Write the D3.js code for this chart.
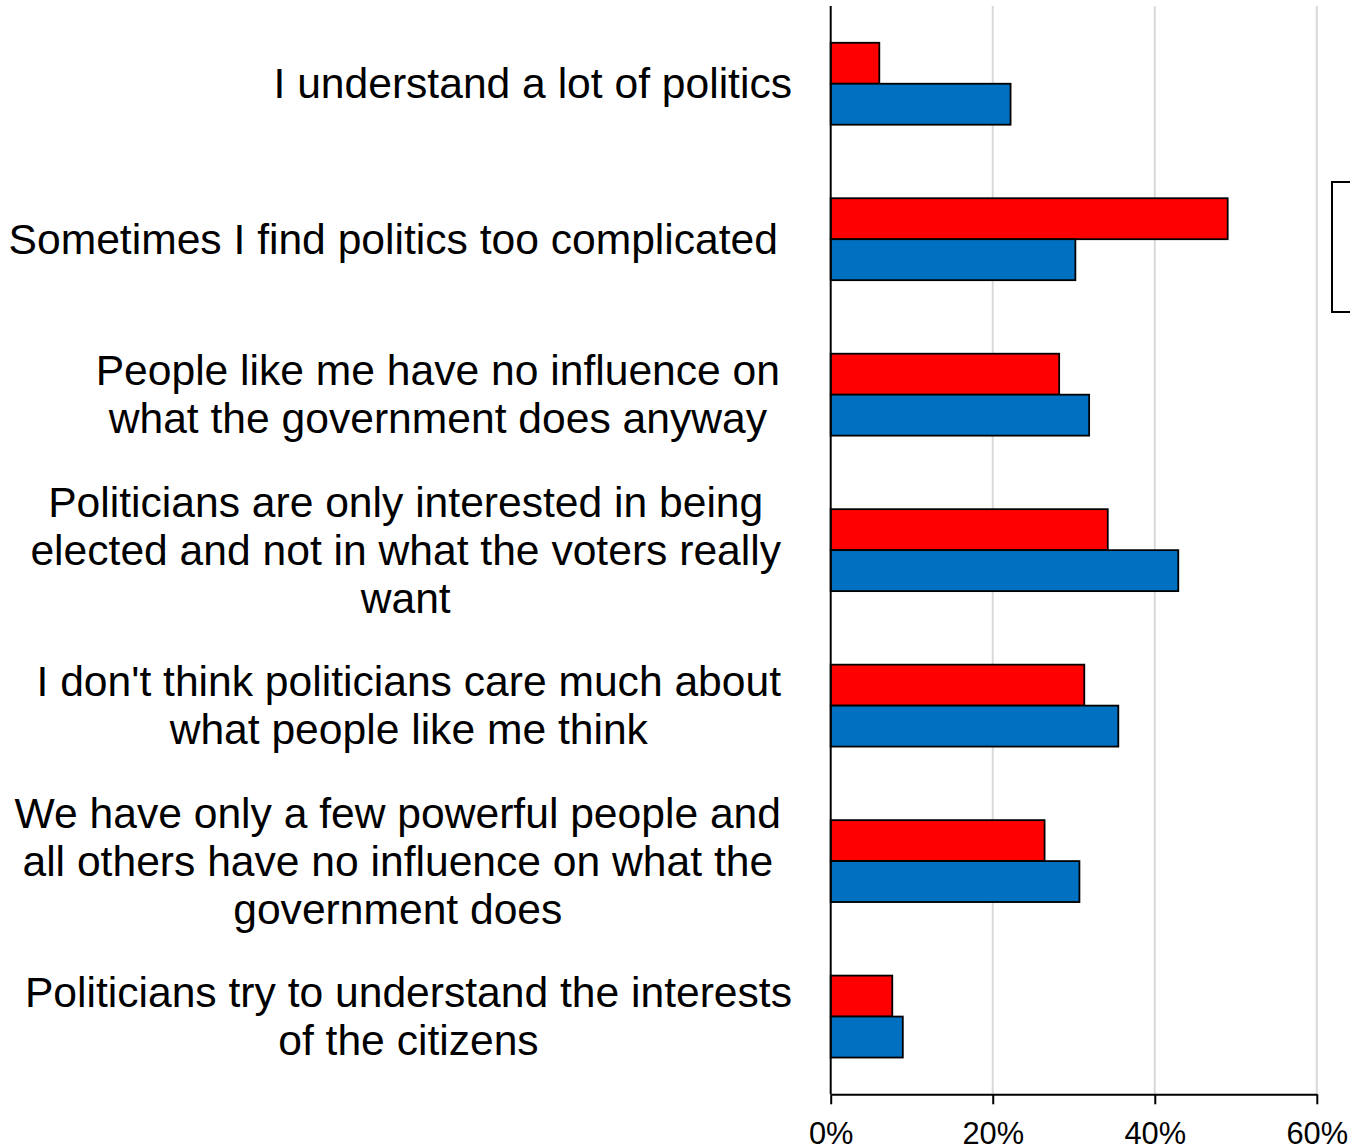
<!DOCTYPE html>
<html>
<head>
<meta charset="utf-8">
<script src="https://cdn.jsdelivr.net/npm/d3@7/dist/d3.min.js"></script>
<style>
  html, body { margin: 0; padding: 0; background: #fff; overflow: hidden; }
  svg { display: block; font-family: "Liberation Sans", Arial, sans-serif; }
</style>
</head>
<body>
<div id="chart"></div>
<script>
// Statements, one entry per category (each inner array is one wrapped line)
const categories = [
  ["I understand a lot of politics"],
  ["Sometimes I find politics too complicated"],
  ["People like me have no influence on", "what the government does anyway"],
  ["Politicians are only interested in being", "elected and not in what the voters really", "want"],
  ["I don't think politicians care much about", "what people like me think"],
  ["We have only a few powerful people and", "all others have no influence on what the", "government does"],
  ["Politicians try to understand the interests", "of the citizens"]
];

// Share agreeing (%), two groups
const seriesRed  = [6.0, 49.0, 28.2, 34.2, 31.3, 26.4, 7.6];
const seriesBlue = [22.2, 30.2, 31.9, 42.9, 35.5, 30.7, 8.9];

// Axis ticks (%)
const xTicks = [0, 20, 40, 60];

// ---- layout ----
const W = 1350, H = 1148;
const plot = { left: 830.7, right: 1316.8, top: 6, bottom: 1094.3 };
const labelFont = 42.6, lineGap = 48;
// right edge of each category label block
const labelRight = [792, 778, 780, 781, 781, 781, 792];

const svg = d3.select("#chart").append("svg")
  .attr("width", W).attr("height", H);

const x = d3.scaleLinear().domain([0, 60]).range([plot.left, plot.right]);
const idx = d3.range(categories.length);
const y = d3.scaleBand().domain(idx).range([plot.top, plot.bottom])
  .paddingInner(0.473).paddingOuter(0.2365);
const series = [
  { key: "red", values: seriesRed, color: "#FF0000" },
  { key: "blue", values: seriesBlue, color: "#0070C0" }
];
const ySub = d3.scaleBand().domain(series.map(s => s.key)).range([0, y.bandwidth()]);

// gridlines
svg.append("g").selectAll("line")
  .data(xTicks.filter(t => t > 0))
  .join("line")
  .attr("x1", d => x(d)).attr("x2", d => x(d))
  .attr("y1", plot.top).attr("y2", plot.bottom)
  .attr("stroke", "#d9d9d9").attr("stroke-width", 2);

// bars
const groups = svg.append("g").selectAll("g")
  .data(idx).join("g")
  .attr("transform", i => `translate(0,${y(i)})`);
groups.selectAll("rect")
  .data(i => series.map(s => ({ key: s.key, v: s.values[i], color: s.color })))
  .join("rect")
  .attr("x", x(0))
  .attr("y", d => ySub(d.key))
  .attr("width", d => x(d.v) - x(0))
  .attr("height", ySub.bandwidth())
  .attr("fill", d => d.color)
  .attr("stroke", "#000").attr("stroke-width", 1.8);

// bottom axis
const xAxis = d3.axisBottom(x).tickValues(xTicks).tickFormat(d => d + "%")
  .tickSize(10).tickSizeOuter(0);
const gx = svg.append("g").attr("transform", `translate(0,${plot.bottom})`).call(xAxis);
gx.select(".domain").attr("stroke", "#000").attr("stroke-width", 2);
gx.selectAll(".tick line").attr("stroke", "#000").attr("stroke-width", 2);
gx.selectAll(".tick text")
  .attr("font-size", 30.8).attr("fill", "#000")
  .attr("font-family", "Liberation Sans, Arial, sans-serif")
  .attr("y", 0).attr("dy", 0)
  .attr("transform", `translate(0,${1143.5 - plot.bottom})`);

// vertical axis line
svg.append("line")
  .attr("x1", plot.left).attr("x2", plot.left)
  .attr("y1", plot.top).attr("y2", plot.bottom)
  .attr("stroke", "#000").attr("stroke-width", 2);

// category labels, centered blocks right-aligned next to the axis
const labels = svg.append("g").attr("font-size", labelFont).attr("fill", "#000");
idx.forEach(i => {
  const lines = categories[i];
  const cy = y(i) + y.bandwidth() / 2;
  const t = labels.append("text").attr("text-anchor", "middle");
  const spans = lines.map((ln, k) => t.append("tspan")
    .attr("y", cy - (lines.length - 1) * lineGap / 2 + k * lineGap + 14.5)
    .text(ln));
  const maxW = d3.max(spans, s => s.node().getComputedTextLength());
  const cx = labelRight[i] - maxW / 2;
  spans.forEach(s => s.attr("x", cx));
});

// legend frame (extends past the right edge)
const legend = svg.append("g").attr("transform", "translate(1332,182)");
legend.append("rect")
  .attr("width", 200).attr("height", 130)
  .attr("fill", "#fff").attr("stroke", "#000").attr("stroke-width", 2);
series.forEach((s, k) => {
  legend.append("rect")
    .attr("x", 30).attr("y", 35 + k * 45).attr("width", 20).attr("height", 20)
    .attr("fill", s.color).attr("stroke", "#000");
});
</script>
</body>
</html>
